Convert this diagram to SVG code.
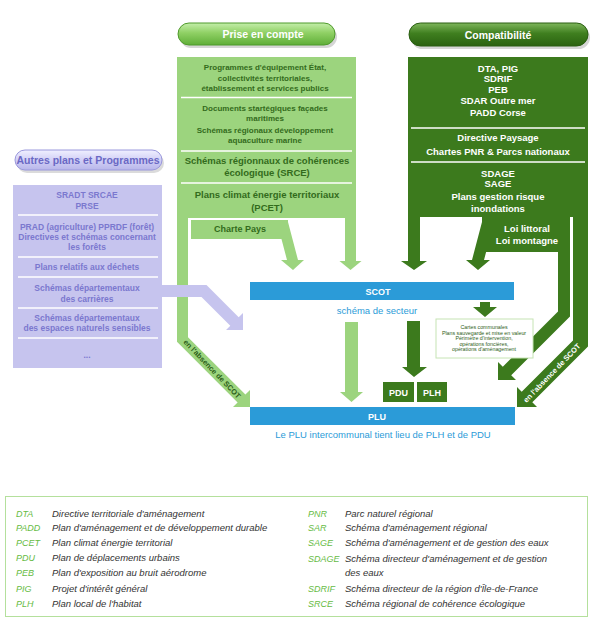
<svg xmlns="http://www.w3.org/2000/svg" width="598" height="620" viewBox="0 0 598 620">
<style>
text{font-family:"Liberation Sans",Arial,sans-serif;text-anchor:middle}
.lg{fill:#9cd47e}
.dg{fill:#3c7a1d}
.lav{fill:#c6c4ee}
.blue{fill:#2b9bd8}
.tl{fill:#336b1c;font-weight:bold;font-size:8px}
.tlb{fill:#336b1c;font-weight:bold;font-size:9.5px}
.td{fill:#fff;font-weight:bold;font-size:9.5px}
.tv{fill:#7b78cf;font-weight:bold;font-size:8.5px}
.sepw{stroke:#fff;stroke-width:1.5}
.pillt{fill:#fff;font-weight:bold;font-size:10.5px}
.bt{fill:#fff;font-weight:bold;font-size:9px}
.bl{fill:#2b9bd8;font-size:9.5px}
.ab{fill:#66bb44;font-style:italic;font-size:9px;text-anchor:start}
.df{fill:#333;font-style:italic;font-size:9.5px;text-anchor:start}
.sm{fill:#2d5e1a;font-size:5.3px}
</style>
<defs>
<linearGradient id="gL" x1="0" y1="0" x2="0" y2="1"><stop offset="0" stop-color="#c4eeaa"/><stop offset="0.45" stop-color="#8fd064"/><stop offset="1" stop-color="#5fae38"/></linearGradient>
<linearGradient id="gD" x1="0" y1="0" x2="0" y2="1"><stop offset="0" stop-color="#7fb65c"/><stop offset="0.45" stop-color="#3f7f1f"/><stop offset="1" stop-color="#2b6210"/></linearGradient>
<linearGradient id="gV" x1="0" y1="0" x2="0" y2="1"><stop offset="0" stop-color="#f0f0ff"/><stop offset="0.5" stop-color="#d2d0f6"/><stop offset="1" stop-color="#b8b6ea"/></linearGradient>
</defs>
<rect width="598" height="620" fill="#fff"/>

<g id="connectors">
<polygon class="lg" points="177,214 188,214 188,337.2 245.4,394.6 250,390 250,407 233,407 237.6,402.4 177,341.8"/>
<polygon class="lg" points="345,214 356,214 356,261 361.5,261 350.5,270 339.5,261 345,261"/>
<polygon class="lg" points="277,222 288,222 298,260 304,260 293,270 281,260 287,260"/>
<polygon class="dg" points="408,214 420,214 420,261 427,261 414,270 401,261 408,261"/>
<polygon class="dg" points="494,222 482,222 472,260 466,260 478,270 490,260 484,260"/>
<polygon class="dg" points="558,250 570,250 570,316.5 511.2,375.2 516,380 498,380 498,362 502.8,366.8 558,311.5"/>
<polygon class="dg" points="573,214 588,214 588,346.6 532.3,402.3 537,407 517,407 517,387 521.7,391.7 573,340.4"/>
<polygon class="lav" points="160,285 206.5,285 238.7,317.3 243,313 243,330 226,330 230.3,325.7 201.5,297 160,297"/>
<polygon class="lg" points="345,322 358,322 358,392 363,392 351.5,402 340,392 345,392"/>
<polygon class="dg" points="407,321 420,321 420,367 427,367 414,377 402,367 407,367"/>
<polygon class="dg" points="480,302 490,302 490,307 497,307 485,317 473,307 480,307"/>
<text transform="translate(212,369) rotate(46)" style="fill:#2b5e18;font-weight:bold;font-size:7.5px" dy="2.5">en l'absence de SCOT</text>
<text transform="translate(552,373) rotate(-46)" style="fill:#fff;font-weight:bold;font-size:7.5px" dy="2.5">en l'absence de SCOT</text>
</g>

<g id="pill-prise">
<rect x="180" y="26" width="157" height="22" rx="11" fill="#888" opacity="0.35"/>
<rect x="178" y="23" width="157" height="22" rx="11" fill="url(#gL)" stroke="#4f9a2c"/>
<text class="pillt" x="263" y="38">Prise en compte</text>
</g>
<g id="box-prise">
<rect class="lg" x="177" y="57" width="179" height="161"/>
<line class="sepw" x1="181" y1="97.5" x2="352" y2="97.5"/>
<line class="sepw" x1="181" y1="151" x2="352" y2="151"/>
<line class="sepw" x1="181" y1="183" x2="352" y2="183"/>
<text class="tl" x="265" y="70">Programmes d'équipement État,</text>
<text class="tl" x="265" y="80.5">collectivités territoriales,</text>
<text class="tl" x="265" y="91">établissement et services publics</text>
<text class="tl" x="265" y="111">Documents startégiques façades</text>
<text class="tl" x="265" y="121">maritimes</text>
<text class="tl" x="265" y="132.5">Schémas régionaux développement</text>
<text class="tl" x="265" y="143">aquaculture marine</text>
<text class="tlb" x="267" y="163.5">Schémas régionnaux de cohérences</text>
<text class="tlb" x="267" y="176">écologique (SRCE)</text>
<text class="tlb" x="267" y="198">Plans climat énergie territoriaux</text>
<text class="tlb" x="267" y="210.5">(PCET)</text>
</g>
<g id="charte-pays">
<rect class="lg" x="191" y="220" width="97" height="19"/>
<text class="tl" x="240" y="232" style="font-size:9px">Charte Pays</text>
</g>

<g id="pill-compat">
<rect x="411" y="26" width="179" height="23" rx="11.5" fill="#888" opacity="0.35"/>
<rect x="409" y="23" width="179" height="23" rx="11.5" fill="url(#gD)" stroke="#2a5e12"/>
<text class="pillt" x="498" y="38.5">Compatibilité</text>
</g>
<g id="box-compat">
<rect class="dg" x="408" y="57" width="180" height="160"/>
<line class="sepw" x1="411" y1="128" x2="585" y2="128"/>
<line class="sepw" x1="411" y1="162" x2="585" y2="162"/>
<text class="td" x="498" y="71.5">DTA, PIG</text>
<text class="td" x="498" y="82">SDRIF</text>
<text class="td" x="498" y="93">PEB</text>
<text class="td" x="498" y="104">SDAR Outre mer</text>
<text class="td" x="498" y="115.5">PADD Corse</text>
<text class="td" x="498" y="140.5">Directive Paysage</text>
<text class="td" x="498" y="155">Chartes PNR &amp; Parcs nationaux</text>
<text class="td" x="498" y="176.5">SDAGE</text>
<text class="td" x="498" y="187">SAGE</text>
<text class="td" x="498" y="199.5">Plans gestion risque</text>
<text class="td" x="498" y="212">inondations</text>
</g>
<g id="loi-littoral">
<rect class="dg" x="482" y="216" width="88" height="36"/>
<text class="td" x="527" y="232">Loi littoral</text>
<text class="td" x="527" y="244">Loi montagne</text>
</g>

<g id="pill-autres">
<rect x="17" y="153" width="147" height="20" rx="10" fill="#999" opacity="0.35"/>
<rect x="15" y="150" width="147" height="20" rx="10" fill="url(#gV)" stroke="#9a98dc"/>
<text x="88" y="164" style="fill:#6a68c4;font-weight:bold;font-size:10.5px">Autres plans et Programmes</text>
</g>
<g id="box-autres">
<rect class="lav" x="13" y="185" width="149" height="183"/>
<line class="sepw" x1="18" y1="215" x2="158" y2="215"/>
<line class="sepw" x1="18" y1="257" x2="158" y2="257"/>
<line class="sepw" x1="18" y1="277" x2="158" y2="277"/>
<line class="sepw" x1="18" y1="308" x2="158" y2="308"/>
<line class="sepw" x1="18" y1="338" x2="158" y2="338"/>
<text class="tv" x="87" y="198">SRADT SRCAE</text>
<text class="tv" x="87" y="209">PRSE</text>
<text class="tv" x="87" y="230">PRAD (agriculture) PPRDF (forêt)</text>
<text class="tv" x="87" y="239.5">Directives et schémas concernant</text>
<text class="tv" x="87" y="249.5">les forêts</text>
<text class="tv" x="87" y="270">Plans relatifs aux déchets</text>
<text class="tv" x="87" y="291">Schémas départementaux</text>
<text class="tv" x="87" y="302">des carrières</text>
<text class="tv" x="87" y="321">Schémas départementaux</text>
<text class="tv" x="87" y="331">des espaces naturels sensibles</text>
<text class="tv" x="87" y="358">...</text>
</g>

<g id="scot">
<rect class="blue" x="250" y="282" width="264" height="18"/>
<text class="bt" x="378" y="294.5">SCOT</text>
<text class="bl" x="377" y="314">schéma de secteur</text>
</g>
<g id="cartes">
<rect x="436" y="319" width="97" height="39" fill="#fff" stroke="#c6e4b4" stroke-width="1"/>
<text class="sm" x="484" y="329">Cartes communales</text>
<text class="sm" x="484" y="334.5">Plans sauvegarde et mise en valeur</text>
<text class="sm" x="484" y="340">Périmètre d'intervention,</text>
<text class="sm" x="484" y="345.5">opérations foncières,</text>
<text class="sm" x="484" y="351">opérations d'aménagement</text>
</g>
<g id="pdu">
<rect class="dg" x="383" y="382" width="31" height="20"/>
<text class="bt" x="398.5" y="395.5">PDU</text>
</g>
<g id="plh">
<rect class="dg" x="417" y="382" width="30" height="20"/>
<text class="bt" x="432" y="395.5">PLH</text>
</g>
<g id="plu">
<rect class="blue" x="250" y="407" width="265" height="18"/>
<text class="bt" x="377" y="419.5">PLU</text>
<text class="bl" x="383" y="438">Le PLU intercommunal tient lieu de PLH et de PDU</text>
</g>

<g id="legend">
<rect x="5.5" y="496.5" width="582" height="120" fill="none" stroke="#b4e09c" stroke-width="1"/>
<text class="ab" x="16" y="516.5">DTA</text><text class="df" x="52" y="516.5">Directive territoriale d'aménagement</text>
<text class="ab" x="16" y="531">PADD</text><text class="df" x="52" y="531">Plan d'aménagement et de développement durable</text>
<text class="ab" x="16" y="546">PCET</text><text class="df" x="52" y="546">Plan climat énergie territorial</text>
<text class="ab" x="16" y="561">PDU</text><text class="df" x="52" y="561">Plan de déplacements urbains</text>
<text class="ab" x="16" y="576">PEB</text><text class="df" x="52" y="576">Plan d'exposition au bruit aérodrome</text>
<text class="ab" x="16" y="591.5">PIG</text><text class="df" x="52" y="591.5">Projet d'intérêt général</text>
<text class="ab" x="16" y="606.5">PLH</text><text class="df" x="52" y="606.5">Plan local de l'habitat</text>
<text class="ab" x="308" y="516.5">PNR</text><text class="df" x="345" y="516.5">Parc naturel régional</text>
<text class="ab" x="308" y="531">SAR</text><text class="df" x="345" y="531">Schéma d'aménagement régional</text>
<text class="ab" x="308" y="546">SAGE</text><text class="df" x="345" y="546">Schéma d'aménagement et de gestion des eaux</text>
<text class="ab" x="308" y="561.5">SDAGE</text><text class="df" x="345" y="561.5">Schéma directeur d'aménagement et de gestion</text>
<text class="df" x="345" y="575.5">des eaux</text>
<text class="ab" x="308" y="591.5">SDRIF</text><text class="df" x="345" y="591.5">Schéma directeur de la région d'Île-de-France</text>
<text class="ab" x="308" y="606.5">SRCE</text><text class="df" x="345" y="606.5">Schéma régional de cohérence écologique</text>
</g>
</svg>
